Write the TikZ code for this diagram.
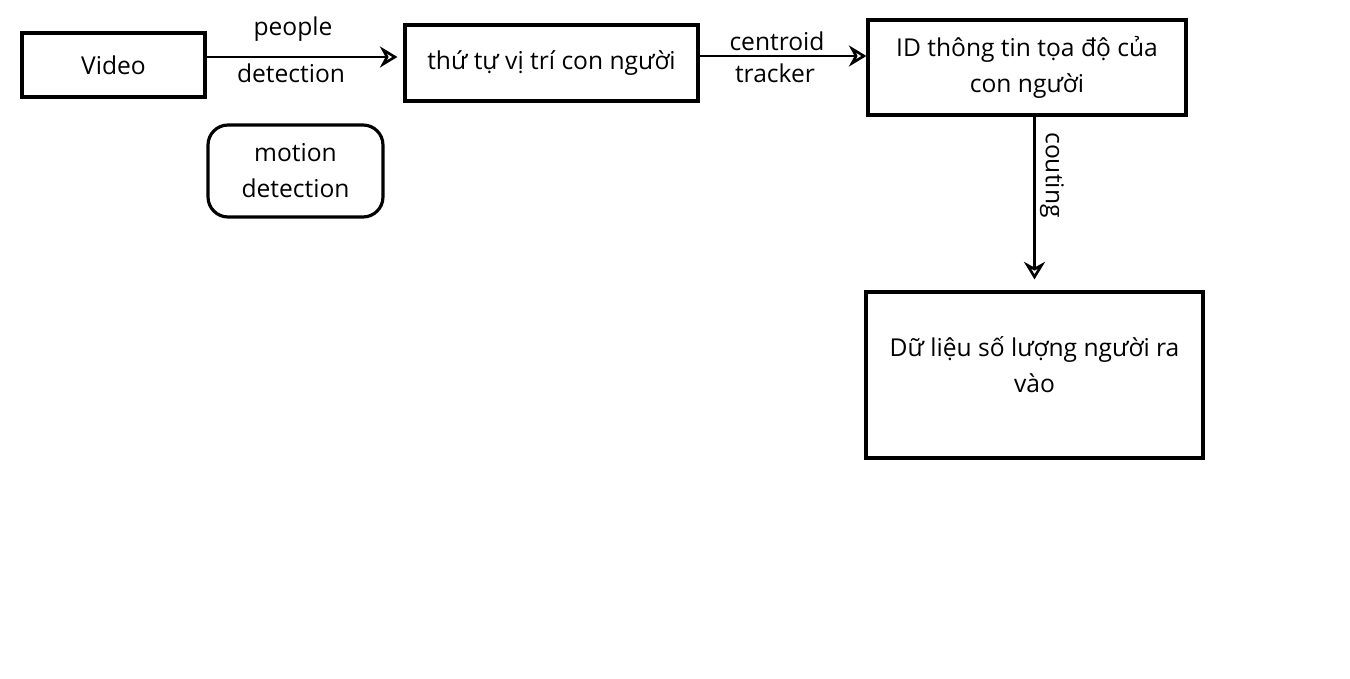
\documentclass[tikz,border=0pt]{standalone}
\usepackage{fontspec}
\setmainfont{Open Sans}
\usetikzlibrary{arrows.meta}
\tikzset{
  box/.style={draw, line width=1.8pt, inner sep=0pt, align=center},
  flow/.style={line width=1.5pt, -{Stealth[open, length=10pt, width=12pt, line width=1.5pt]}},
  lbl/.style={inner sep=0pt}
}
\begin{document}
\begin{tikzpicture}[x=0.02cm, y=-0.02cm, font=\fontsize{14}{20.5}\selectfont]
  \useasboundingbox (0,0) rectangle (1350,679);
  \node [box, minimum width=3.66cm, minimum height=1.28cm] (video) at (113.5,65) {Video};
  \node [box, minimum width=5.86cm, minimum height=1.52cm] (pos) at (551.5,63) {thứ tự vị trí con người};
  \node [box, minimum width=6.36cm, minimum height=1.9cm] (id) at (1027,67.5) {ID thông tin tọa độ của\\con người};
  \node [box, minimum width=6.74cm, minimum height=3.32cm] (data) at (1034.5,375) {Dữ liệu số lượng người ra\\vào\\[-0.32cm]};
  \node [box, rounded corners=0.4cm, minimum width=3.5cm, minimum height=1.84cm] (motion) at (295.5,171) {motion\\detection};
  \draw [flow, shorten >=0.12cm] (video.east |- 0,57) -- (pos.west |- 0,57);
  \draw [flow] (pos.east |- 0,56) -- (id.west |- 0,56);
  \draw [flow, shorten >=0.22cm] (id.south -| data) -- (data.north);
  \node [lbl] (people) at (293,29) {people};
  \node [lbl] (detect) at (291,73) {detection};
  \node [lbl] (centroid) at (777,41) {centroid};
  \node [lbl] (tracker) at (775,73) {tracker};
  \node [lbl, rotate=-90] (count) at (1052,175) {couting};
\end{tikzpicture}
\end{document}
